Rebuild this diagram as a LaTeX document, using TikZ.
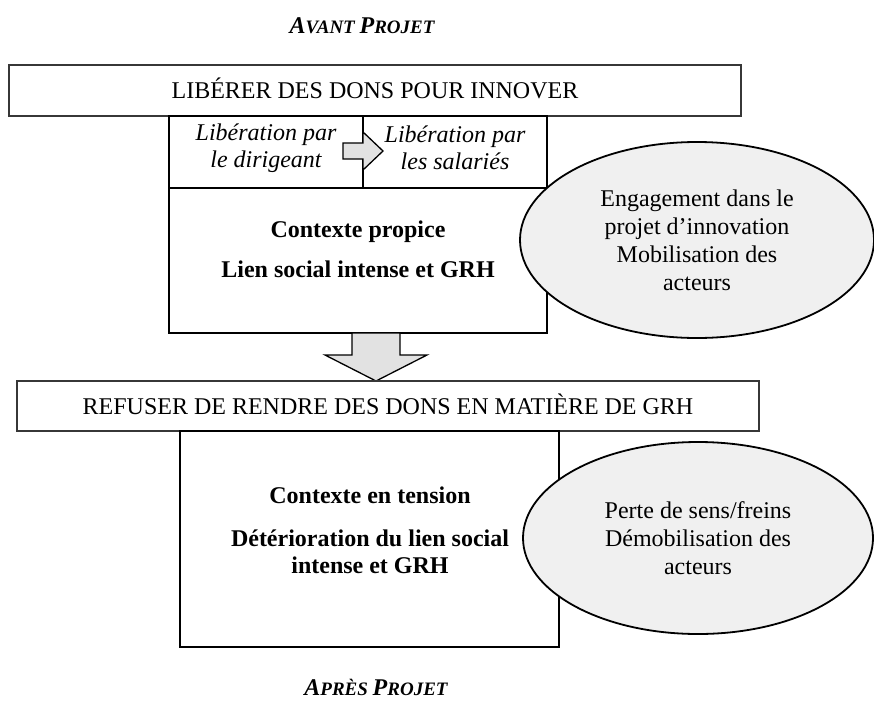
\documentclass[tikz,border=0pt]{standalone}
\usepackage{fontspec}
\setmainfont{Liberation Serif}
\usetikzlibrary{shapes.geometric}
\definecolor{ellfill}{RGB}{240,240,240}
\definecolor{arrfill}{RGB}{226,226,226}
\definecolor{darkline}{RGB}{55,55,55}
\begin{document}
\begin{tikzpicture}[x=1pt,y=-1pt,
  every node/.style={inner sep=0pt, outer sep=0pt},
  wide/.style n args={2}{draw=darkline, line width=1.4pt, minimum width=#1pt, minimum height=#2pt, font=\fontsize{24}{28}\selectfont, text height=16.2pt, text depth=0pt},
  cell/.style n args={2}{draw=black, line width=1.4pt, minimum width=#1pt, minimum height=#2pt},
  itxt/.style={align=center, font=\fontsize{24}{27}\selectfont\itshape},
  btxt/.style={align=center, font=\fontsize{24}{27}\selectfont\bfseries},
  bubble/.style n args={2}{ellipse, draw=black, line width=1.8pt, fill=ellfill, minimum width=#1pt, minimum height=#2pt, font=\fontsize{24}{28}\selectfont, align=center},
  blockarrow/.style={draw=black, line width=1.3pt, fill=arrfill, line join=miter},
  title/.style={font=\bfseries\itshape, text height=16.2pt, text depth=0pt}
]
\clip (0,0) rectangle (874,704);

% titles
\node[title] (avant) at (362,25) {\fontsize{24}{28}\selectfont A\fontsize{19}{28}\selectfont VANT \fontsize{24}{28}\selectfont P\fontsize{19}{28}\selectfont ROJET};
\node[title] (apres) at (376,687) {\fontsize{24}{28}\selectfont A\fontsize{19}{28}\selectfont PRÈS \fontsize{24}{28}\selectfont P\fontsize{19}{28}\selectfont ROJET};

% upper part
\node[wide={732}{51}] (liberer) at (375,90.5) {LIBÉRER DES DONS POUR INNOVER};
\node[cell={194}{72}] (libdir) at (266,152) {};
\node[cell={184}{72}] (libsal) at (455,152) {};
\node[itxt] (libdirt) at (266,148) {Libération par\\le dirigeant};
\node[itxt] (libsalt) at (455,148) {Libération par\\les salariés};
\node[cell={378}{145}] (ctx1) at (358,260.5) {};
\node[btxt] (ctx1t) at (358,249) {Contexte propice\\[13pt]Lien social intense et GRH};

% small block arrow
\draw[blockarrow] (343,143) -- (363,143) -- (363,132) -- (383,151) -- (363,170) -- (363,159) -- (343,159) -- cycle;

% big down arrow
\draw[blockarrow] (352,333) -- (400,333) -- (400,355) -- (427,355) -- (376,381) -- (325,355) -- (352,355) -- cycle;

% lower part
\node[wide={742}{50}] (refuser) at (388,406) {REFUSER DE RENDRE DES DONS EN MATIÈRE DE GRH};
\node[cell={379}{216}] (ctx2) at (369.5,539) {};
\node[btxt] (ctx2t) at (370,530) {Contexte en tension\\[16pt]Détérioration du lien social\\intense et GRH};

% ellipses
\node[bubble={354}{196}] (engage) at (697,240) {Engagement dans le\\projet d’innovation\\Mobilisation des\\acteurs};
\node[bubble={350}{192}] (perte) at (698,538) {Perte de sens/freins\\Démobilisation des\\acteurs};
\end{tikzpicture}
\end{document}
